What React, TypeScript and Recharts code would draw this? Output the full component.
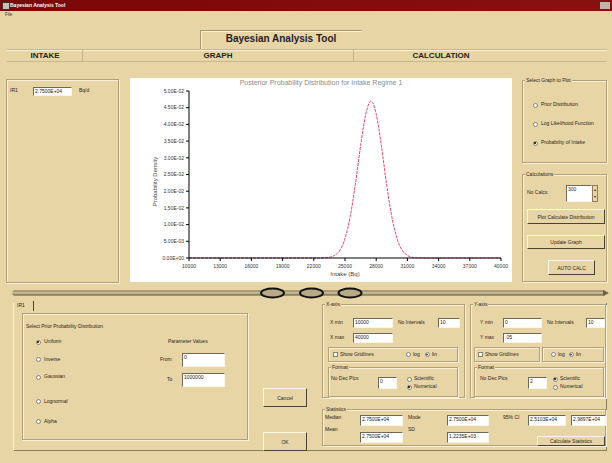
import React from 'react';
import { LineChart, Line, XAxis, YAxis } from 'recharts';

const intakeBq = [10000, 22000, 23000, 23500, 24000, 24500, 25000, 25500, 26000, 26500, 27000, 27500, 28000, 28500, 29000, 29500, 30000, 30500, 31000, 31500, 32000, 33000, 40000];
const probabilityDensity = [0, 0, 0.00005, 0.0002, 0.0008, 0.0023, 0.0058, 0.0124, 0.0221, 0.0336, 0.0431, 0.047, 0.0431, 0.0336, 0.0221, 0.0124, 0.0058, 0.0023, 0.0008, 0.0002, 0.00005, 0, 0];
const xTicks = [10000, 13000, 16000, 19000, 22000, 25000, 28000, 31000, 34000, 37000, 40000];
const yTicks = [0, 0.005, 0.01, 0.015, 0.02, 0.025, 0.03, 0.035, 0.04, 0.045, 0.05];
const chartTitle = 'Posterior Probability Distribution for Intake Regime 1';
const xLabel = 'Intake (Bq)';
const yLabel = 'Probability Density';

const chartData = intakeBq.map((x, i) => ({ x, y: probabilityDensity[i] }));

const sci = (v: number) => {
  const [m, e] = v.toExponential(2).split('e');
  const n = parseInt(e, 10);
  return `${m}E${n < 0 ? '-' : '+'}${String(Math.abs(n)).padStart(2, '0')}`;
};

const BG = '#e8d5a6';
const FONT = '"Liberation Sans", Arial, sans-serif';

const Txt = ({ x, y, s = 5, b = false, c = '#2a2418', children, center = false }: any) => (
  <div
    style={{
      position: 'absolute',
      left: x,
      top: y - s * 0.6,
      fontSize: s,
      fontWeight: b ? 'bold' : 'normal',
      color: c,
      lineHeight: 1.15,
      whiteSpace: 'nowrap',
      transform: center ? 'translateX(-50%)' : undefined,
    }}
  >
    {children}
  </div>
);

const Inp = ({ x, y, w, h, v }: any) => (
  <div
    style={{
      position: 'absolute',
      left: x,
      top: y,
      width: w,
      height: h,
      boxSizing: 'border-box',
      background: '#fff',
      borderTop: '1px solid #6e6656',
      borderLeft: '1px solid #6e6656',
      borderBottom: '1px solid #fbf5e4',
      borderRight: '1px solid #fbf5e4',
      fontSize: 5,
      lineHeight: '7px',
      paddingLeft: 1,
      color: '#222',
      overflow: 'hidden',
      whiteSpace: 'nowrap',
    }}
  >
    {v}
  </div>
);

const Radio = ({ x, y, on = false }: any) => (
  <div
    style={{
      position: 'absolute',
      left: x - 2.5,
      top: y - 2.5,
      width: 5,
      height: 5,
      boxSizing: 'border-box',
      borderRadius: '50%',
      background: '#fff',
      border: '1px solid #8a8070',
    }}
  >
    {on && (
      <div style={{ position: 'absolute', left: 0.8, top: 0.8, width: 1.5, height: 1.5, borderRadius: '50%', background: '#111' }} />
    )}
  </div>
);

const Check = ({ x, y }: any) => (
  <div
    style={{
      position: 'absolute',
      left: x - 2.5,
      top: y - 2.5,
      width: 5,
      height: 5,
      boxSizing: 'border-box',
      background: '#fff',
      border: '1px solid #8a8070',
    }}
  />
);

const Btn = ({ x, y, w, h, label }: any) => (
  <div
    style={{
      position: 'absolute',
      left: x,
      top: y,
      width: w,
      height: h,
      boxSizing: 'border-box',
      background: BG,
      borderTop: '1px solid #fdf8ea',
      borderLeft: '1px solid #fdf8ea',
      borderBottom: '1.5px solid #4a4232',
      borderRight: '1.5px solid #4a4232',
      fontSize: 5,
      color: '#2a2418',
      display: 'flex',
      alignItems: 'center',
      justifyContent: 'center',
      whiteSpace: 'nowrap',
    }}
  >
    {label}
  </div>
);

const Group = ({ x, y, w, h, title }: any) => (
  <>
    <div
      style={{
        position: 'absolute',
        left: x,
        top: y,
        width: w,
        height: h,
        boxSizing: 'border-box',
        border: '1px solid #b3a078',
        boxShadow: '1px 1px 0 #faf1d8, inset 1px 1px 0 #faf1d8',
      }}
    />
    {title && (
      <div
        style={{
          position: 'absolute',
          left: x + 3,
          top: y - 3,
          fontSize: 5,
          lineHeight: '6px',
          padding: '0 1px',
          background: BG,
          color: '#2a2418',
          whiteSpace: 'nowrap',
        }}
      >
        {title}
      </div>
    )}
  </>
);

const YLabel = (props: any) => {
  const vb = props.viewBox || {};
  const cx = 25;
  const cy = (vb.y ?? 13) + (vb.height ?? 167) / 2 + 7;
  return (
    <text x={cx} y={cy} transform={`rotate(-90 ${cx} ${cy})`} textAnchor="middle" dominantBaseline="central" fontSize={6} fill="#444" fontFamily={FONT}>
      {yLabel}
    </text>
  );
};

const Chart = () => (
  <div style={{ position: 'absolute', left: 130, top: 78, width: 382, height: 204, background: '#fff' }}>
    <div
      style={{
        position: 'absolute',
        left: 191,
        top: 0,
        transform: 'translateX(-50%)',
        fontSize: 7,
        color: '#8c8c8c',
        whiteSpace: 'nowrap',
        lineHeight: '9px',
      }}
    >
      {chartTitle}
    </div>
    <LineChart width={382} height={204} data={chartData} margin={{ top: 13, right: 11, left: 0, bottom: 0 }}>
      <XAxis
        dataKey="x"
        type="number"
        domain={[10000, 40000]}
        ticks={xTicks}
        interval={0}
        height={24}
        tickSize={3}
        tickMargin={3}
        axisLine={{ stroke: '#000' }}
        tickLine={{ stroke: '#000' }}
        tick={{ fontSize: 5, fill: '#333', fontFamily: FONT }}
        label={{ value: xLabel, position: 'insideBottom', offset: 6, fontSize: 6, fill: '#444', fontFamily: FONT }}
      />
      <YAxis
        type="number"
        domain={[0, 0.05]}
        ticks={yTicks}
        interval={0}
        width={59}
        tickSize={3}
        tickMargin={2}
        tickFormatter={sci}
        axisLine={{ stroke: '#000' }}
        tickLine={{ stroke: '#000' }}
        tick={{ fontSize: 5, fill: '#333', fontFamily: FONT }}
        label={YLabel}
      />
      <Line
        type="monotone"
        dataKey="y"
        stroke="#e2496b"
        strokeWidth={1}
        strokeDasharray="3 1"
        dot={false}
        isAnimationActive={false}
      />
    </LineChart>
  </div>
);

const Separator = () => (
  <svg style={{ position: 'absolute', left: 0, top: 283 }} width={612} height={20}>
    <defs>
      <linearGradient id="bar" x1="0" y1="0" x2="0" y2="1">
        <stop offset="0" stopColor="#6b604a" />
        <stop offset="0.35" stopColor="#cdbf9c" />
        <stop offset="0.65" stopColor="#b9aa85" />
        <stop offset="1" stopColor="#5a503c" />
      </linearGradient>
    </defs>
    <rect x={12} y={7.5} width={594} height={5} rx={2.5} fill="url(#bar)" />
    <path d="M603 7 L609 10 L603 13 Z" fill="#6b604a" />
    {[272.5, 311.5, 350].map((cx) => (
      <ellipse key={cx} cx={cx} cy={10} rx={11.5} ry={4.5} fill="#b9aa85" stroke="#111" strokeWidth={2} />
    ))}
  </svg>
);

export default function App() {
  return (
    <div
      style={{
        position: 'fixed',
        left: 0,
        top: 0,
        width: 612,
        height: 463,
        background: BG,
        fontFamily: FONT,
        overflow: 'hidden',
      }}
    >
      {/* title bar */}
      <div style={{ position: 'absolute', left: 0, top: 0, width: 612, height: 11, background: 'linear-gradient(90deg,#7a0606,#8a1010)' }} />
      <div style={{ position: 'absolute', left: 2, top: 2, width: 6, height: 6, background: '#c8c0b0', border: '0.5px solid #333' }} />
      <Txt x={10} y={5.5} s={5} b c="#fff">Bayesian Analysis Tool</Txt>
      <div style={{ position: 'absolute', left: 600, top: 2, width: 10, height: 7, background: '#bdb7ab' }} />
      {/* menu */}
      <Txt x={5} y={14.5} s={4.5} c="#333">File</Txt>

      {/* header */}
      <div
        style={{
          position: 'absolute',
          left: 200,
          top: 30,
          width: 162,
          height: 19,
          boxSizing: 'border-box',
          borderTop: '1px solid #a89670',
          borderLeft: '1px solid #a89670',
          boxShadow: 'inset 1px 1px 0 #fbf3dc',
        }}
      />
      <Txt x={281} y={38.5} s={10} b c="#222" center>Bayesian Analysis Tool</Txt>

      {/* tab row */}
      <div style={{ position: 'absolute', left: 7, top: 49, width: 600, height: 13, boxSizing: 'border-box', borderTop: '1px solid #c9b78e', borderBottom: '1px solid #c9b78e', boxShadow: 'inset 0 1px 0 #faf1d8' }} />
      <div style={{ position: 'absolute', left: 82, top: 49, width: 1, height: 13, background: '#c4b186' }} />
      <div style={{ position: 'absolute', left: 353, top: 49, width: 1, height: 13, background: '#c4b186' }} />
      <Txt x={45} y={56} s={8} b c="#222" center>INTAKE</Txt>
      <Txt x={218} y={56} s={8} b c="#222" center>GRAPH</Txt>
      <Txt x={441} y={56} s={8} b c="#222" center>CALCULATION</Txt>

      {/* intake panel */}
      <Group x={6} y={79} w={113} h={204} />
      <Txt x={10} y={90.5}>IR1</Txt>
      <Inp x={33} y={87} w={39} h={9} v="2.7500E+04" />
      <Txt x={79} y={90.5}>Bq/d</Txt>

      <Chart />

      {/* right panel */}
      <Group x={522} y={80} w={85} h={83} title="Select Graph to Plot" />
      <Radio x={535} y={105} />
      <Txt x={541} y={105}>Prior Distribution</Txt>
      <Radio x={535} y={124} />
      <Txt x={541} y={124}>Log Likelihood Function</Txt>
      <Radio x={535} y={143} on />
      <Txt x={541} y={143}>Probability of Intake</Txt>

      <Group x={522} y={174} w={85} h={108} title="Calculations" />
      <Txt x={527} y={193}>No Calcs:</Txt>
      <Inp x={566} y={185} w={26} h={17} v="300" />
      <div style={{ position: 'absolute', left: 592, top: 185, width: 6, height: 17, boxSizing: 'border-box', background: BG, border: '1px solid #8a7d60', fontSize: 4, lineHeight: '7px', textAlign: 'center', color: '#222' }}>
        ▴<br />▾
      </div>
      <Btn x={527} y={209} w={78} h={15} label="Plot Calculate Distribution" />
      <Btn x={527} y={235} w={78} h={14} label="Update Graph" />
      <Btn x={548} y={260} w={47} h={15} label="AUTO CALC" />

      <Separator />

      {/* bottom tab area */}
      <div style={{ position: 'absolute', left: 13, top: 303, width: 594, height: 148, boxSizing: 'border-box', borderLeft: '1px solid #fbf3dc', borderBottom: '1px solid #8a7d60', borderRight: '1px solid #8a7d60' }} />
      <Txt x={17} y={306}>IR1</Txt>
      <div style={{ position: 'absolute', left: 33, top: 301, width: 1, height: 10, background: '#4a4232' }} />

      <Group x={22} y={313} w={226} h={127} />
      <Txt x={26} y={327}>Select Prior Probability Distribution</Txt>
      <Radio x={38} y={342} on />
      <Txt x={44} y={342}>Uniform</Txt>
      <Radio x={38} y={359.5} />
      <Txt x={44} y={359.5}>Inverse</Txt>
      <Radio x={38} y={377} />
      <Txt x={44} y={377}>Gaussian</Txt>
      <Radio x={38} y={401.5} />
      <Txt x={44} y={401.5}>Lognormal</Txt>
      <Radio x={38} y={421.5} />
      <Txt x={44} y={421.5}>Alpha</Txt>
      <Txt x={168} y={342}>Parameter Values</Txt>
      <Txt x={160} y={360}>From</Txt>
      <Inp x={182} y={353} w={43} h={14} v="0" />
      <Txt x={167} y={380}>To</Txt>
      <Inp x={182} y={373} w={43} h={14} v="1000000" />

      <Btn x={263} y={388} w={44} h={19} label="Cancel" />
      <Btn x={263} y={432} w={44} h={19} label="OK" />

      {/* X-axis settings */}
      <Group x={322} y={304} w={143} h={94} title="X-axis" />
      <Txt x={330} y={323}>X min</Txt>
      <Inp x={353} y={318} w={40} h={10} v="10000" />
      <Txt x={398} y={323}>No Intervals</Txt>
      <Inp x={438} y={318} w={22} h={10} v="10" />
      <Txt x={330} y={337.5}>X max</Txt>
      <Inp x={353} y={333} w={40} h={10} v="40000" />
      <Group x={328} y={347} w={130} h={15} />
      <Check x={335} y={354.5} />
      <Txt x={340} y={354.5}>Show Gridlines</Txt>
      <Radio x={408} y={354.5} />
      <Txt x={413} y={354.5}>log</Txt>
      <Radio x={427} y={354.5} on />
      <Txt x={432} y={354.5}>lin</Txt>
      <Group x={328} y={367} w={130} h={30} title="Format" />
      <Txt x={331} y={379}>No Dec Plcs</Txt>
      <Inp x={378} y={377} w={19} h={12} v="0" />
      <Radio x={409} y={379} />
      <Txt x={414} y={379}>Scientific</Txt>
      <Radio x={409} y={387} on />
      <Txt x={414} y={387}>Numerical</Txt>

      {/* Y-axis settings */}
      <Group x={470} y={304} w={136} h={94} title="Y-axis" />
      <Txt x={480} y={323}>Y min</Txt>
      <Inp x={503} y={318} w={39} h={10} v="0" />
      <Txt x={547} y={323}>No Intervals</Txt>
      <Inp x={586} y={318} w={19} h={10} v="10" />
      <Txt x={480} y={337.5}>Y max</Txt>
      <Inp x={503} y={333} w={39} h={10} v=".05" />
      <Group x={474} y={347} w={66} h={15} />
      <Check x={480} y={354.5} />
      <Txt x={485} y={354.5}>Show Gridlines</Txt>
      <Group x={542} y={347} w={62} h={15} />
      <Radio x={553} y={354.5} />
      <Txt x={558} y={354.5}>log</Txt>
      <Radio x={571} y={354.5} on />
      <Txt x={576} y={354.5}>lin</Txt>
      <Group x={474} y={367} w={130} h={30} title="Format" />
      <Txt x={480} y={379}>No Dec Plcs</Txt>
      <Inp x={528} y={377} w={19} h={12} v="2" />
      <Radio x={555} y={379} on />
      <Txt x={560} y={379}>Scientific</Txt>
      <Radio x={555} y={387} />
      <Txt x={560} y={387}>Numerical</Txt>

      {/* statistics */}
      <Group x={322} y={409} w={284} h={37} title="Statistics" />
      <Txt x={325} y={417.5}>Median</Txt>
      <Inp x={360} y={415} w={43} h={11} v="2.7500E+04" />
      <Txt x={408} y={417.5}>Mode</Txt>
      <Inp x={447} y={415} w={42} h={11} v="2.7500E+04" />
      <Txt x={503} y={417.5}>95% CI</Txt>
      <Inp x={528} y={415} w={38} h={11} v="2.5103E+04" />
      <Inp x={571} y={415} w={35} h={11} v="2.9897E+04" />
      <Txt x={325} y={430}>Mean</Txt>
      <Inp x={360} y={432} w={43} h={11} v="2.7500E+04" />
      <Txt x={408} y={430}>SD</Txt>
      <Inp x={447} y={432} w={42} h={11} v="1.2235E+03" />
      <Btn x={537} y={436} w={68} h={10} label="Calculate Statistics" />
    </div>
  );
}
